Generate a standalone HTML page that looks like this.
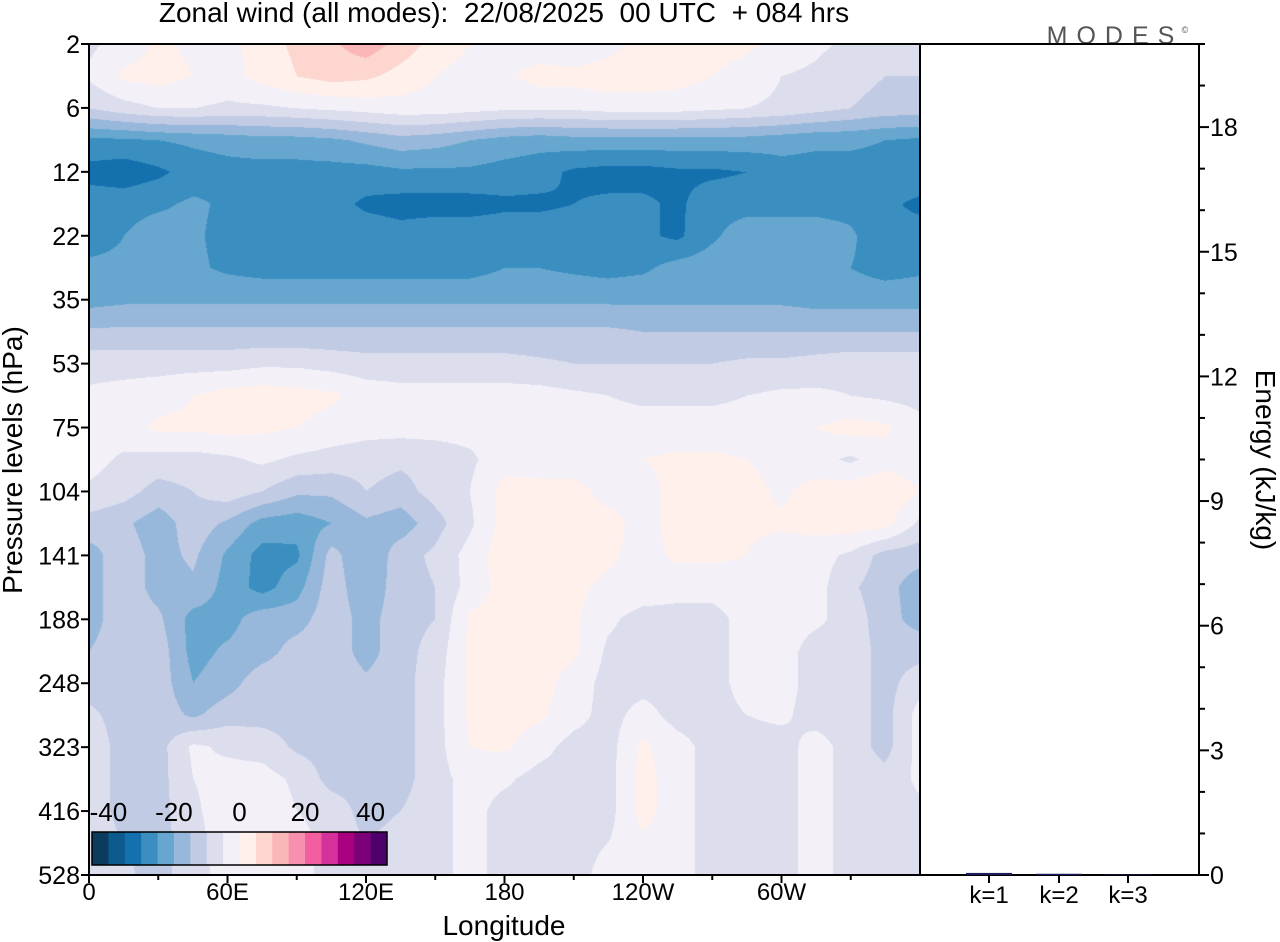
<!DOCTYPE html>
<html><head><meta charset="utf-8">
<style>
html,body{margin:0;padding:0;background:#fff;}
#root{position:relative;width:1280px;height:942px;overflow:hidden;font-family:"Liberation Sans",sans-serif;}
svg text{font-family:"Liberation Sans",sans-serif;}
canvas{position:absolute;left:89px;top:44px;}
</style></head>
<body>
<div id="root">
<canvas id="field" width="831" height="831"></canvas>
<svg id="ov" width="1280" height="942" style="position:absolute;left:0;top:0"></svg>
</div>
<script>
// ---- data ----
const levels = ["2","6","12","22","35","53","75","104","141","188","248","323","416","528"];
const lonLabels = ["0","60E","120E","180","120W","60W"];
const lonTicks = [0,60,120,180,240,300];
const energyTicks = [0,3,6,9,12,15,18];
const kLabels = ["k=1","k=2","k=3"];
const kEnergy = [0.05,0.03,0.01];
const cbLabels = [-40,-20,0,20,40];
const classColors = ["#0b3c5d","#0d5a8c","#1471ae","#3a8fc0","#67a7cf","#97b8da","#c2cbe4","#dcdeee","#f4f0f7","#fff0ec","#fdd6d0","#fbb6b8","#f78fae","#f25e9f","#d6309a","#a9007f","#7a0177","#4d006b"];
// wind grid: rows = half-level steps from 2 hPa to 528 hPa, cols = every 15 deg longitude
const r00=[-6,-3,1,-1,-2,3,6,9,13,8,3,0,-2,-3,-5,-2,2,1,2,1,-2,-4,-6,-7,-7];
const r01=[-4,1,2,0,-2,2,5,7,6,3,0,-2,-1,2,2,3,3,2,0,-2,-5,-6,-8,-10,-10];
const r02=[-10,-7,-5,-5,-6,-6,-5,-4,-3,-2,-2,-3,-4,-4,-4,-3,-3,-3,-4,-5,-6,-8,-10,-12,-12];
const r03=[-26,-26,-25,-24,-23,-22,-22,-21,-19,-17,-18,-20,-22,-23,-22,-22,-22,-22,-22,-22,-23,-24,-24,-25,-26];
const r04=[-32,-33,-31,-28,-27,-27,-27,-27,-27,-26,-26,-26,-27,-28,-31,-32,-32,-31,-31,-30,-27,-27,-27,-27,-27];
const r05=[-27,-27,-26,-24,-26,-27,-27,-28,-31,-32,-32,-32,-31,-31,-30,-29,-29,-31,-27,-27,-27,-27,-27,-29,-31];
const r06=[-27,-25,-22,-24,-27,-28,-27,-27,-27,-28,-27,-27,-27,-27,-27,-28,-29,-31,-26,-22,-22,-22,-24,-29,-28];
const r07=[-24,-24,-22,-24,-26,-27,-27,-27,-27,-27,-27,-27,-25,-25,-26,-27,-26,-23,-22,-22,-22,-23,-25,-27,-26];
const r08=[-22,-21,-21,-21,-21,-21,-21,-21,-21,-21,-21,-21,-21,-21,-21,-21,-21,-21,-21,-21,-21,-22,-22,-22,-22];
const r09=[-14,-14,-14,-14,-14,-14,-14,-14,-14,-14,-14,-14,-14,-14,-14,-14,-15,-15,-15,-15,-15,-15,-15,-15,-15];
const r10=[-7,-7,-7,-7,-7,-6,-6,-7,-8,-8,-8,-8,-8,-9,-10,-10,-10,-10,-10,-9,-9,-8,-7,-7,-7];
const r11=[-4,-3,-2,0,2,3,2,1,-2,-3,-3,-3,-3,-3,-4,-5,-6,-6,-6,-5,-4,-4,-5,-6,-7];
const r12=[-3,-2,1,1,2,1,0,-2,-3,-3,-3,-3,-3,-3,-3,-3,-3,-3,-3,-3,-2,0,2,1,-3];
const r13=[-3,-6,-7,-7,-6,-4,-6,-7,-8,-9,-8,-6,-2,-3,-3,-3,0,1,1,0,-2,-3,-6,-2,-3];
const r14=[-6,-8,-12,-10,-7,-10,-14,-14,-10,-12,-8,-5,2,2,2,-2,-2,2,2,2,-1,2,3,4,0];
const r15=[-12,-14,-18,-12,-16,-22,-23,-20,-16,-18,-12,-6,2,2,2,2,-2,2,2,1,1,2,3,2,-6];
const r16=[-17,-12,-17,-14,-21,-27,-26,-13,-20,-12,-9,-3,3,2,2,1,-2,1,1,0,-3,-3,-6,-12,-13];
const r17=[-17,-12,-17,-16,-22,-27,-22,-12,-19,-12,-10,-3,2,1,1,-1,-2,-3,-3,-2,-3,-3,-9,-13,-18];
const r18=[-17,-12,-14,-22,-22,-17,-17,-12,-17,-12,-10,1,2,2,1,-4,-7,-7,-7,-3,-3,-4,-7,-13,-17];
const r19=[-15,-12,-12,-22,-19,-17,-13,-12,-17,-12,-8,1,2,2,1,-6,-7,-7,-7,-3,-3,-7,-7,-12,-12];
const r20=[-12,-12,-12,-20,-17,-12,-12,-12,-14,-12,-7,1,2,2,-2,-7,-7,-7,-7,-3,-3,-7,-7,-12,-7];
const r21=[-9,-12,-12,-16,-12,-12,-12,-12,-13,-12,-7,1,2,1,-3,-7,-3,-7,-7,-5,-4,-7,-7,-12,-3];
const r22=[-7,-12,-12,-4,-6,-7,-11,-12,-12,-12,-7,0,1,-3,-7,-7,1,-3,-7,-7,-7,-3,-7,-12,-3];
const r23=[-7,-12,-12,-5,-3,-3,-6,-12,-12,-12,-7,-3,-4,-7,-7,-7,2,-3,-7,-7,-7,-3,-7,-8,-4];
const r24=[-7,-12,-12,-6,-2,-2,-5,-7,-12,-10,-7,-3,-7,-7,-7,-7,2,-3,-7,-7,-7,-3,-7,-7,-6];
const r25=[-7,-10,-12,-7,-2,-2,-3,-7,-10,-8,-7,-3,-7,-7,-7,-5,-1,-3,-7,-7,-7,-3,-7,-7,-7];
const r26=[-7,-9,-12,-7,-3,-2,-3,-7,-9,-7,-7,-3,-7,-7,-7,-3,-3,-3,-7,-7,-7,-3,-7,-7,-7];
const windRows=[r00,r01,r02,r03,r04,r05,r06,r07,r08,r09,r10,r11,r12,r13,r14,r15,r16,r17,r18,r19,r20,r21,r22,r23,r24,r25,r26];

// ---- geometry ----
const PL=89,PT=44,PW=831,PH=831,PB=PT+PH,PR=PL+PW;
const RR=1199;
const xLon=l=>PL+l/360*PW;
const yLev=i=>PT+i*PH/13;
const yEn=e=>PB-e*41.55;
function classOf(v){let i=Math.floor((v+45)/5);return Math.max(0,Math.min(17,i));}
function hex(c){return [parseInt(c.substr(1,2),16),parseInt(c.substr(3,2),16),parseInt(c.substr(5,2),16)];}

// ---- field ----
(function(){
 const cv=document.getElementById('field');const ctx=cv.getContext('2d');
 const img=ctx.createImageData(PW,PH);const d=img.data;
 const nR=windRows.length,nC=windRows[0].length;
 const rgb=classColors.map(hex);
 for(let py=0;py<PH;py++){
  const fy=py/(PH-1)*(nR-1);let r=Math.min(nR-2,Math.floor(fy));const ty=fy-r;
  for(let px=0;px<PW;px++){
   const fx=px/(PW-1)*(nC-1);let c=Math.min(nC-2,Math.floor(fx));const tx=fx-c;
   const v=(windRows[r][c]*(1-tx)+windRows[r][c+1]*tx)*(1-ty)+(windRows[r+1][c]*(1-tx)+windRows[r+1][c+1]*tx)*ty;
   const k=rgb[classOf(v)];const o=(py*PW+px)*4;
   d[o]=k[0];d[o+1]=k[1];d[o+2]=k[2];d[o+3]=255;
  }
 }
 ctx.putImageData(img,0,0);
})();

// ---- overlay ----
const NS='http://www.w3.org/2000/svg';
const svg=document.getElementById('ov');
function mk(tag,attrs,parent){const e=document.createElementNS(NS,tag);for(const k in attrs)e.setAttribute(k,attrs[k]);(parent||svg).appendChild(e);return e;}
function txt(s,x,y,size,anchor,parent){const t=mk('text',{x:x,y:y,'font-size':size,'text-anchor':anchor||'middle',fill:'#000'},parent);t.textContent=s;return t;}

// title
let t=txt('Zonal wind (all modes):  22/08/2025  00 UTC  + 084 hrs',504,22,28,'middle');


t.setAttribute('xml:space','preserve');t.style.whiteSpace='pre';
// MODES logo
t=txt('MODES',1115,44,25,'middle');
t.setAttribute('fill','#555');t.setAttribute('letter-spacing','9');


t=txt('©',1185,33,9,'middle');t.setAttribute('fill','#555');



// frames
let f=mk('rect',{x:PL,y:PT,width:PW,height:PH,fill:'none',stroke:'#000','stroke-width':2});


f=mk('rect',{x:PR,y:PT,width:RR-PR,height:PH,fill:'none',stroke:'#000','stroke-width':2});



// y axis
const yg=mk('g',{});


levels.forEach((l,i)=>{const y=yLev(i);
 mk('line',{x1:PL-8,x2:PL,y1:y,y2:y,stroke:'#000','stroke-width':2},yg);
 const tt=txt(l,PL-9,y+9,25,'end',yg);
 
 
});
t=txt('Pressure levels (hPa)',0,0,28,'middle');
t.setAttribute('transform','translate(22,460) rotate(-90)');



// x axis
const xg=mk('g',{});


for(let l=0;l<360;l+=30){const x=xLon(l);mk('line',{x1:x,x2:x,y1:PB,y2:PB+(l%60===0?8:5),stroke:'#000','stroke-width':2},xg);}
lonTicks.forEach((l,i)=>{const tt=txt(lonLabels[i],xLon(l),PB+25,24,'middle',xg);
 
 });
t=txt('Longitude',504,935,28,'middle');



// right energy axis
const eg=mk('g',{});


for(let e=0;e<=20;e++){const y=yEn(e);const maj=energyTicks.indexOf(e)>=0;mk('line',{x1:RR,x2:RR+(maj?10:6),y1:y,y2:y,stroke:'#000','stroke-width':2},eg);}
energyTicks.forEach(e=>{const tt=txt(String(e),RR+11,yEn(e)+9,25,'start',eg);
 
 });
t=txt('Energy (kJ/kg)',0,0,28,'middle');
t.setAttribute('transform','translate(1256,460) rotate(90)');



// k bars
const kx=[989,1059,1128];
kLabels.forEach((k,i)=>{
 const x=kx[i];
 mk('line',{x1:x,x2:x,y1:PB,y2:PB+8,stroke:'#000','stroke-width':2});
 const h=Math.max(0.5,kEnergy[i]*41.55);
 const b=mk('rect',{x:x-23,y:PB-h,width:46,height:h,fill:'#1a1a5e'});
 
 
 const tt=txt(k,x,PB+28,24,'middle');
 
 
});

// colorbar
const cb=mk('g',{});


const cbX=92,cbW=295,cbY=832,cbH=33;
const cw=cbW/classColors.length;
classColors.forEach((c,i)=>{const r=mk('rect',{x:cbX+i*cw,y:cbY,width:cw+0.5,height:cbH,fill:c},cb);
 
 });
mk('rect',{x:cbX,y:cbY,width:cbW,height:cbH,fill:'none',stroke:'#000','stroke-width':1.5},cb);
cbLabels.forEach(v=>{const tt=txt(String(v),cbX+(v+45)/90*cbW,821,26,'middle',cb);
 
 });
</script>
</body></html>
